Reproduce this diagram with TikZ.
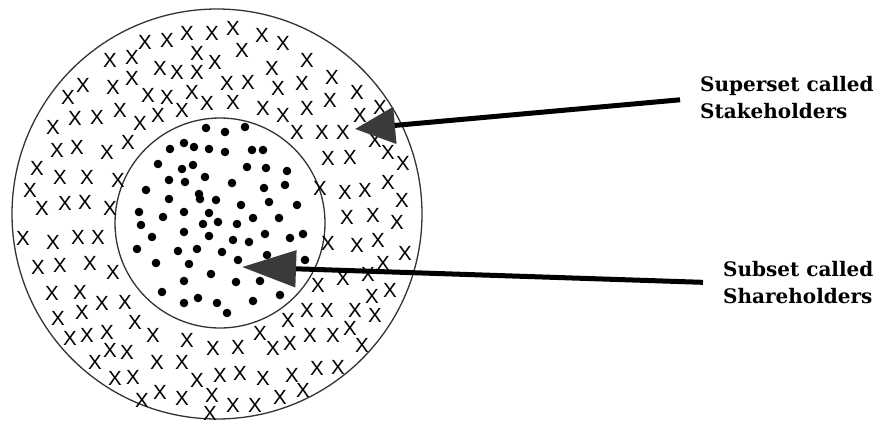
\documentclass[tikz,border=0pt]{standalone}
\usepackage{fontspec}
\setmainfont{DejaVu Serif}
\newfontfamily\crossfont{Liberation Sans}
\usetikzlibrary{arrows.meta}
\definecolor{ringgray}{HTML}{333333}
\definecolor{headgray}{HTML}{3A3A3A}
\begin{document}
\begin{tikzpicture}[
  x=1pt, y=-1pt,
  ring/.style={draw=ringgray, line width=1.3pt},
  cross/.style={inner sep=0pt, font=\crossfont\fontsize{20.5}{20.5}\selectfont},
  settext/.style={inner sep=0pt, anchor=west, align=left, font=\bfseries\fontsize{20}{27}\selectfont},
  pointer/.style={line width=5pt, shorten <=20pt}
]
\useasboundingbox (0,0) rectangle (874,421);
\draw[ring] (217,214) circle (205);
\draw[ring] (220,223) circle (105);
% stakeholders
\foreach \x/\y in {145/42,167/40,187/33,212/33,233/28,262/35,283/43,197/53,242/50,
  110/60,132/57,160/68,177/72,197/72,215/62,272/68,307/60,
  83/85,113/87,132/78,148/95,167/97,192/92,207/103,227/83,248/82,278/88,302/83,332/77,357/92,
  68/97,120/110,140/123,158/115,182/110,233/102,263/108,283/115,307/108,330/100,360/115,380/107,
  53/127,75/118,97/117,57/150,77/147,107/152,128/142,297/132,322/132,343/132,375/140,388/152,
  37/168,60/177,87/177,118/180,328/158,350/157,403/163,
  30/190,42/208,65/203,85/202,110/208,320/188,345/192,365/190,388/182,402/200,
  23/238,53/242,78/237,98/237,347/217,373/215,397/222,
  38/267,60/265,90/263,113/272,328/243,357/245,378/240,405/253,
  52/293,80/292,102/303,125/302,318/285,343/278,368/274,390/290,383/263,
  58/318,82/312,70/338,87/335,107/332,135/322,153/335,288/320,307/310,327/310,355/310,375/315,372/296,
  95/362,110/350,127/352,157/362,187/340,213/348,238/347,260/333,273/348,290/343,310/335,333/335,350/328,362/345,
  115/378,133/377,182/362,197/380,220/375,240/373,263/378,292/375,317/368,338/367,
  142/400,160/392,182/398,212/395,233/405,255/405,280/397,303/390,210/413}
  \node[cross] at (\x,\y) {X};
% shareholders
\foreach \x/\y in {206/128,225/132,245/127,170/149,184/143,194/147,209/149,225/152,252/150,263/150,
  158/164,182/169,193/165,205/177,247/167,266/168,287/171,169/180,185/182,232/183,264/188,285/185,
  146/190,169/199,199/194,200/199,216/200,241/205,269/202,297/205,
  139/212,163/217,184/212,209/213,203/224,218/222,237/224,253/218,279/218,
  141/225,152/237,184/232,209/236,233/240,249/242,265/234,290/238,303/234,
  137/249,178/251,197/249,222/252,238/260,267/255,305/260,
  156/263,189/264,211/274,236/282,260/281,280/295,
  184/281,162/292,184/303,198/298,217/303,227/313,253/301}
  \fill (\x,\y) circle (4.3);
\node[settext] (supr) at (700,98) {Superset called\\Stakeholders};
\node[settext] (subs) at (723,283) {Subset called\\Shareholders};
\coordinate (stk) at (355,129);
\coordinate (shr) at (242,267);
\draw[pointer, -{Triangle[length=40pt, width=36pt, color=headgray]}] (supr.west) -- (stk);
\draw[pointer, -{Triangle[length=54pt, width=36pt, color=headgray]}] (subs.west) -- (shr);
\end{tikzpicture}
\end{document}
